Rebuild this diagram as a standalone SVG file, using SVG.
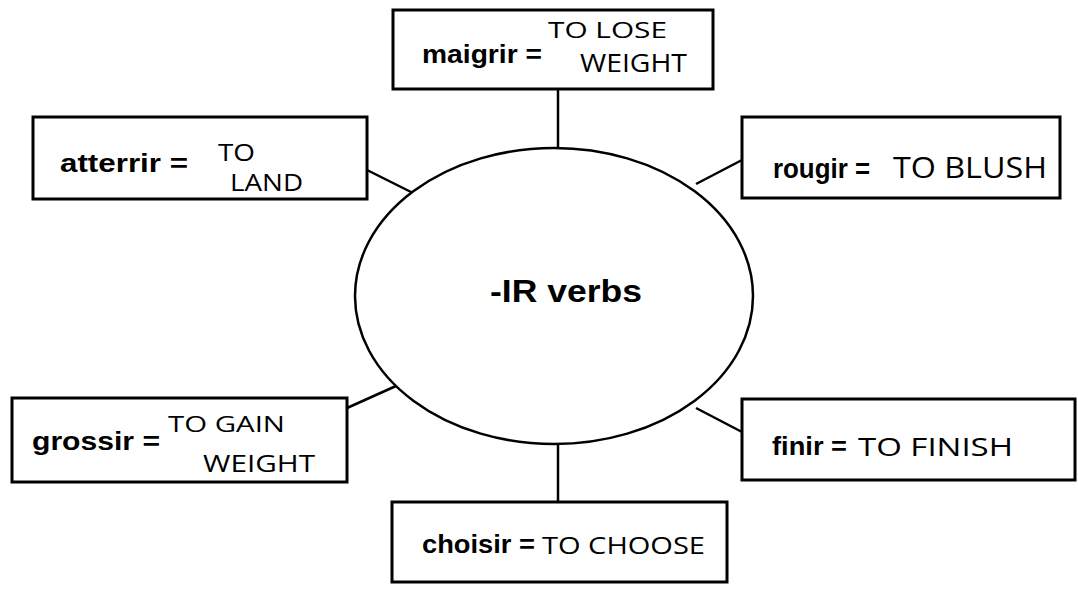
<svg xmlns="http://www.w3.org/2000/svg" width="1078" height="592" viewBox="0 0 1078 592">
<style>
.box{fill:#fff;stroke:#000;stroke-width:3}
.lbl{font-family:"Liberation Sans",Arial,sans-serif;font-weight:bold;font-size:26px;fill:#000}
.hw{font-family:"Open Sans","DejaVu Sans",sans-serif;font-weight:400;font-size:21px;fill:#000}
.conn line{stroke:#000;stroke-width:2.5}
</style>
<rect width="1078" height="592" fill="#fff"/>
<g id="connectors" class="conn">
<line x1="558" y1="89" x2="558" y2="149"/>
<line x1="367" y1="170" x2="413" y2="193"/>
<line x1="742" y1="160" x2="696" y2="184"/>
<line x1="347" y1="408" x2="396" y2="386"/>
<line x1="742" y1="432" x2="696" y2="408"/>
<line x1="558" y1="444" x2="558" y2="502"/>
</g>
<g id="center">
<ellipse cx="554" cy="296" rx="199" ry="148" fill="#fff" stroke="#000" stroke-width="2.5"/>
<text x="490" y="302" class="lbl" style="font-size:31px" textLength="152" lengthAdjust="spacingAndGlyphs">-IR verbs</text>
</g>
<g id="maigrir">
<rect class="box" x="393" y="10" width="320" height="79"/>
<text class="lbl" x="422" y="63" textLength="120" lengthAdjust="spacingAndGlyphs">maigrir =</text>
<text class="hw" x="548" y="38" textLength="119" lengthAdjust="spacingAndGlyphs">TO LOSE</text>
<text class="hw" x="580" y="72" style="font-size:25px" textLength="107" lengthAdjust="spacingAndGlyphs">WEIGHT</text>
</g>
<g id="atterrir">
<rect class="box" x="33" y="117" width="334" height="82"/>
<text class="lbl" x="60" y="172" textLength="128" lengthAdjust="spacingAndGlyphs">atterrir =</text>
<text class="hw" x="218" y="161" style="font-size:24px" textLength="37" lengthAdjust="spacingAndGlyphs">TO</text>
<text class="hw" x="230" y="191" style="font-size:24px" textLength="73" lengthAdjust="spacingAndGlyphs">LAND</text>
</g>
<g id="rougir">
<rect class="box" x="742" y="117" width="318" height="81"/>
<text class="lbl" x="773" y="178" style="font-size:28px" textLength="97" lengthAdjust="spacingAndGlyphs">rougir =</text>
<text class="hw" x="893" y="178" style="font-size:29px" textLength="154" lengthAdjust="spacingAndGlyphs">TO BLUSH</text>
</g>
<g id="grossir">
<rect class="box" x="12" y="398" width="335" height="84"/>
<text class="lbl" x="32" y="450" textLength="128" lengthAdjust="spacingAndGlyphs">grossir =</text>
<text class="hw" x="168" y="432" textLength="117" lengthAdjust="spacingAndGlyphs">TO GAIN</text>
<text class="hw" x="203" y="472" style="font-size:24px" textLength="112" lengthAdjust="spacingAndGlyphs">WEIGHT</text>
</g>
<g id="finir">
<rect class="box" x="742" y="399" width="333" height="81"/>
<text class="lbl" x="772" y="455" textLength="75" lengthAdjust="spacingAndGlyphs">finir =</text>
<text class="hw" x="858" y="456" style="font-size:25px" textLength="155" lengthAdjust="spacingAndGlyphs">TO FINISH</text>
</g>
<g id="choisir">
<rect class="box" x="392" y="502" width="335" height="80"/>
<text class="lbl" x="422" y="553" textLength="113" lengthAdjust="spacingAndGlyphs">choisir =</text>
<text class="hw" x="542" y="554" style="font-size:24px" textLength="163" lengthAdjust="spacingAndGlyphs">TO CHOOSE</text>
</g>
</svg>
